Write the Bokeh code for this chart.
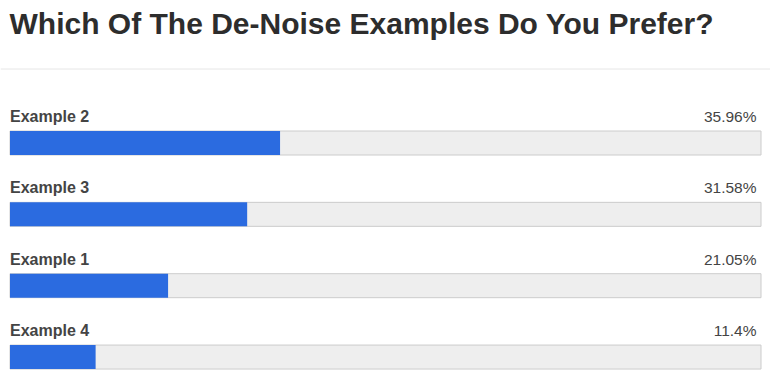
from bokeh.plotting import figure
from bokeh.models import ColumnDataSource, Range1d, Label, Span
from bokeh.core.properties import value
from bokeh.embed import file_html
from bokeh.resources import INLINE

# ---- data ----
title_text = "Which Of The De-Noise Examples Do You Prefer?"
options = ["Example 2", "Example 3", "Example 1", "Example 4"]
percents = [35.96, 31.58, 21.05, 11.4]
percent_labels = ["35.96%", "31.58%", "21.05%", "11.4%"]

# ---- layout (page pixel units on y, percent on x) ----
W, H = 770, 387
PX_PER_PCT = 7.51
X0 = 9.5  # pixel position of 0%
row_step = 71.35
first_track_top = 130.5
track_h = 24.0

n = len(options)
track_top = [first_track_top + i * row_step for i in range(n)]
track_bottom = [t + track_h for t in track_top]
label_y = [t - 14.5 for t in track_top]

def px_to_pct(px):
    return (px - X0) / PX_PER_PCT

src = ColumnDataSource(dict(
    option=options, pct=percents, pct_label=percent_labels,
    top=track_top, bottom=track_bottom, ly=label_y,
    zero=[0] * n, full=[100] * n,
    lx=[px_to_pct(9.5)] * n, rx=[px_to_pct(756)] * n,
))

p = figure(width=W, height=H, output_backend="svg", toolbar_location=None,
           x_range=Range1d(px_to_pct(0), px_to_pct(W)),
           y_range=Range1d(H, 0), min_border=0)
p.axis.visible = False
p.grid.visible = False
p.outline_line_color = None
p.background_fill_color = "white"
p.border_fill_color = "white"

# track
p.quad(left="zero", right="full", top="top", bottom="bottom", source=src,
       fill_color="#eeeeee", line_color="#cccccc", line_width=1)
# value bars
p.quad(left="zero", right="pct", top="top", bottom="bottom", source=src,
       fill_color="#2b6be0", line_color=None)

p.text(x="lx", y="ly", text="option", source=src,
       text_font=value("Liberation Sans"), text_font_style="bold",
       text_font_size="16px", text_color="#444444",
       text_baseline="alphabetic", text_align="left")
p.text(x="rx", y="ly", text="pct_label", source=src,
       text_font=value("Liberation Sans"), text_font_style="normal",
       text_font_size="15.5px", text_color="#444444",
       text_baseline="alphabetic", text_align="right")

p.add_layout(Label(x=px_to_pct(9), y=23.0, text=title_text,
                   text_font="Liberation Sans", text_font_style="bold",
                   text_font_size="30px", text_color="#2d2d2d",
                   text_baseline="alphabetic", text_align="left"))

p.add_layout(Span(location=68.5, dimension="width",
                  line_color="#e6e6e6", line_width=1))

open("out.html", "w").write(file_html(p, INLINE))
